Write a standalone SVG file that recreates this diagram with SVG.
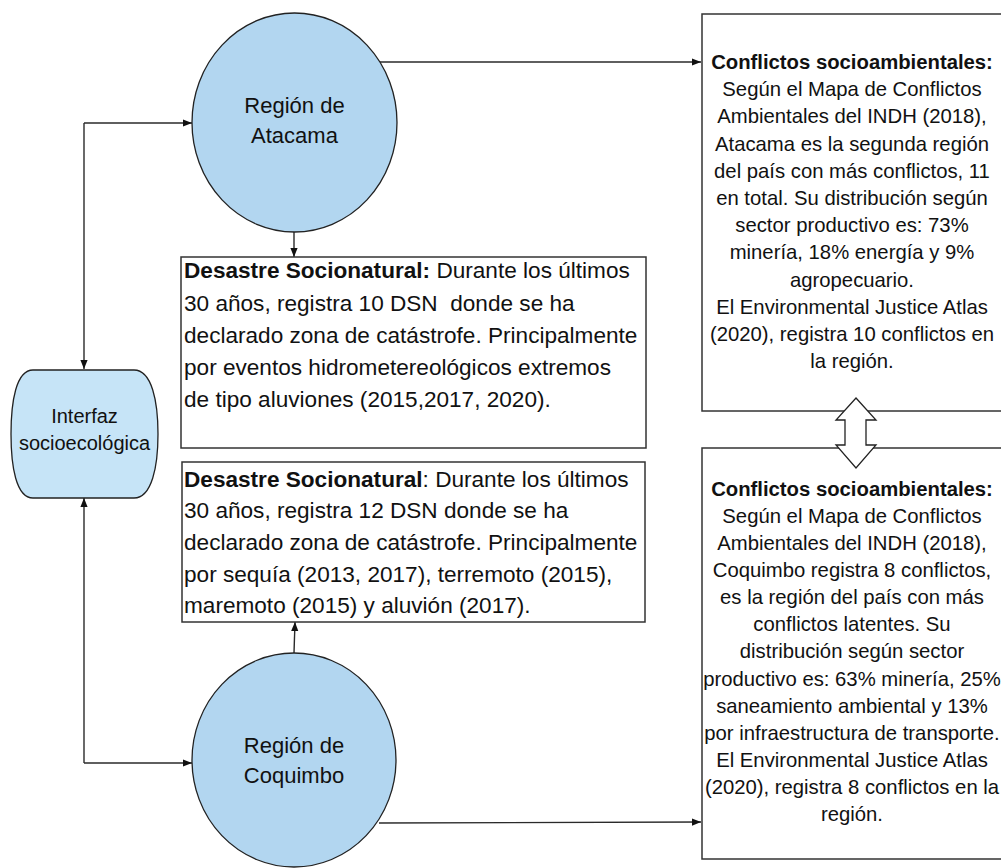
<svg xmlns="http://www.w3.org/2000/svg" width="1001" height="868" viewBox="0 0 1001 868">
  <style>
    .box { fill: #ffffff; stroke: #333333; stroke-width: 1.5; }
    .region { fill: #b2d6f0; stroke: #222222; stroke-width: 1.3; }
    .iface { fill: #c6e4f7; stroke: #222222; stroke-width: 1.3; }
    .edge { fill: none; stroke: #2a2a2a; stroke-width: 1.4; }
    text { font-family: "Liberation Sans", Arial, sans-serif; fill: #111111; }
    .lbl { font-size: 22px; text-anchor: middle; }
    .body { font-size: 22.6px; }
    .side { font-size: 20.3px; text-anchor: middle; }
    .b { font-weight: bold; }
  </style>
  <defs>
    <marker id="arrow" viewBox="0 0 10 10" refX="10" refY="5" markerWidth="9" markerHeight="9" markerUnits="userSpaceOnUse" orient="auto">
      <path d="M0,1 L10,5 L0,9 Z" fill="#111111"/>
    </marker>
  </defs>

  <!-- connectors -->
  <g id="connectors">
    <path class="edge" d="M380,62 L701,62" marker-end="url(#arrow)"/>
    <path class="edge" d="M294,232 L294,257" marker-end="url(#arrow)"/>
    <path class="edge" d="M84,123 L84,369" marker-end="url(#arrow)"/>
    <path class="edge" d="M84,123 L192,123" marker-end="url(#arrow)"/>
    <path class="edge" d="M84,763 L84,498" marker-end="url(#arrow)"/>
    <path class="edge" d="M84,763 L192,763" marker-end="url(#arrow)"/>
    <path class="edge" d="M294,653 L295,622" marker-end="url(#arrow)"/>
    <path class="edge" d="M379,823 L701,822" marker-end="url(#arrow)"/>
  </g>

  <!-- Región de Atacama -->
  <g id="atacama">
    <ellipse class="region" cx="294.5" cy="122.5" rx="102.5" ry="109.5"/>
    <text class="lbl" x="294.5" y="113">Región de</text>
    <text class="lbl" x="294.5" y="143">Atacama</text>
  </g>

  <!-- Región de Coquimbo -->
  <g id="coquimbo">
    <ellipse class="region" cx="294" cy="760" rx="102" ry="107"/>
    <text class="lbl" x="294" y="753">Región de</text>
    <text class="lbl" x="294" y="783">Coquimbo</text>
  </g>

  <!-- Interfaz socioecológica -->
  <g id="interfaz">
    <path class="iface" d="M33,370 H134 C152,370 158,402 158,434 C158,466 152,498 134,498 H33 C16,498 11,466 11,434 C11,402 16,370 33,370 Z"/>
    <text class="lbl" x="84.5" y="423" style="font-size:20px">Interfaz</text>
    <text class="lbl" x="84.5" y="450" style="font-size:20px">socioecológica</text>
  </g>

  <!-- Desastre Socionatural: Atacama -->
  <g id="dsn-atacama">
    <rect class="box" x="181" y="257" width="465" height="191"/>
    <text class="body" x="184" y="278"><tspan class="b">Desastre Socionatural:</tspan> Durante los últimos</text>
    <text class="body" x="184" y="311" xml:space="preserve">30 años, registra 10 DSN  donde se ha</text>
    <text class="body" x="184" y="343">declarado zona de catástrofe. Principalmente</text>
    <text class="body" x="184" y="375">por eventos hidrometereológicos extremos</text>
    <text class="body" x="184" y="407">de tipo aluviones (2015,2017, 2020).</text>
  </g>

  <!-- Desastre Socionatural: Coquimbo -->
  <g id="dsn-coquimbo">
    <rect class="box" x="182" y="462" width="463" height="160"/>
    <text class="body" x="184" y="487"><tspan class="b">Desastre Socionatural</tspan>: Durante los últimos</text>
    <text class="body" x="184" y="518">30 años, registra 12 DSN donde se ha</text>
    <text class="body" x="184" y="550">declarado zona de catástrofe. Principalmente</text>
    <text class="body" x="184" y="582">por sequía (2013, 2017), terremoto (2015),</text>
    <text class="body" x="184" y="613">maremoto (2015) y aluvión (2017).</text>
  </g>

  <!-- Conflictos socioambientales: Atacama -->
  <g id="conf-atacama">
    <rect class="box" x="702" y="14" width="302" height="397"/>
    <text class="side b" x="852" y="69">Conflictos socioambientales:</text>
    <text class="side" x="852" y="96">Según el Mapa de Conflictos</text>
    <text class="side" x="852" y="123">Ambientales del INDH (2018),</text>
    <text class="side" x="852" y="151">Atacama es la segunda región</text>
    <text class="side" x="852" y="178">del país con más conflictos, 11</text>
    <text class="side" x="852" y="205">en total. Su distribución según</text>
    <text class="side" x="852" y="232">sector productivo es: 73%</text>
    <text class="side" x="852" y="259">minería, 18% energía y 9%</text>
    <text class="side" x="852" y="287">agropecuario.</text>
    <text class="side" x="852" y="314">El Environmental Justice Atlas</text>
    <text class="side" x="852" y="341">(2020), registra 10 conflictos en</text>
    <text class="side" x="852" y="368">la región.</text>
  </g>

  <!-- Conflictos socioambientales: Coquimbo -->
  <g id="conf-coquimbo">
    <rect class="box" x="702" y="448" width="302" height="411"/>
    <text class="side b" x="852" y="496">Conflictos socioambientales:</text>
    <text class="side" x="852" y="523">Según el Mapa de Conflictos</text>
    <text class="side" x="852" y="550">Ambientales del INDH (2018),</text>
    <text class="side" x="852" y="577">Coquimbo registra 8 conflictos,</text>
    <text class="side" x="852" y="604">es la región del país con más</text>
    <text class="side" x="852" y="631">conflictos latentes. Su</text>
    <text class="side" x="852" y="658">distribución según sector</text>
    <text class="side" x="852" y="686">productivo es: 63% minería, 25%</text>
    <text class="side" x="852" y="713">saneamiento ambiental y 13%</text>
    <text class="side" x="852" y="740">por infraestructura de transporte.</text>
    <text class="side" x="852" y="767">El Environmental Justice Atlas</text>
    <text class="side" x="852" y="794">(2020), registra 8 conflictos en la</text>
    <text class="side" x="852" y="821">región.</text>
  </g>

  <!-- two-way link between the conflict boxes -->
  <g id="link">
    <polygon points="856,398 876,420 866,420 866,445 876,445 856,468 836,445 845,445 845,420 836,420" fill="#ffffff" stroke="#222222" stroke-width="1.3"/>
  </g>
</svg>
